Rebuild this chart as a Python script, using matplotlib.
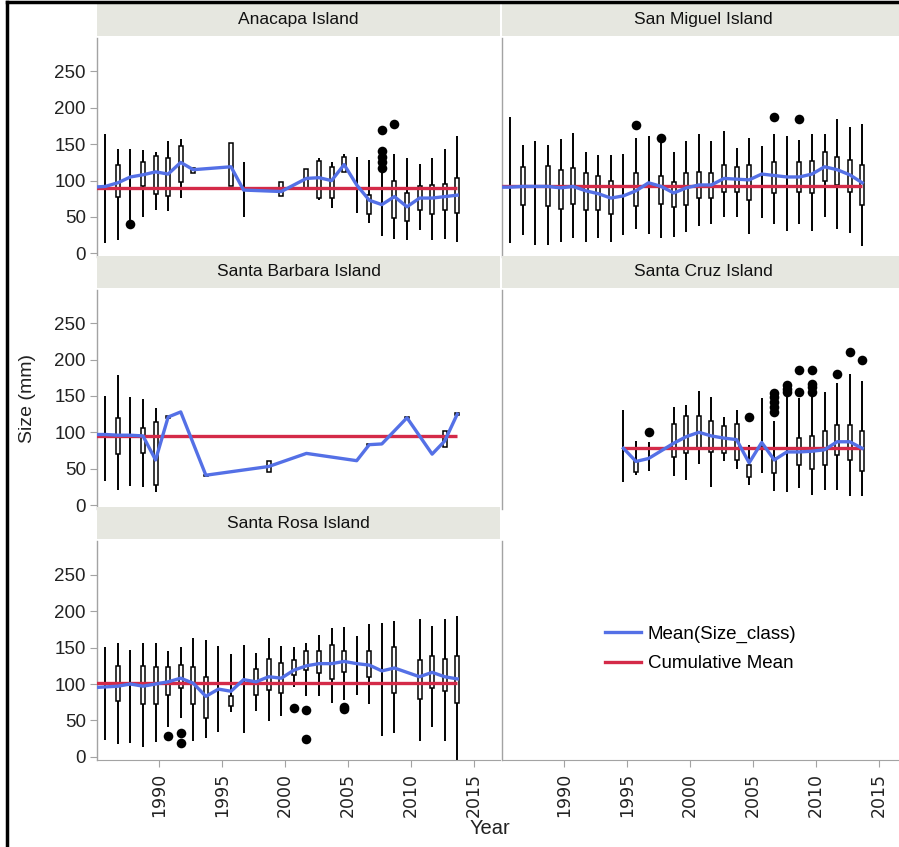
import numpy as np
import matplotlib
matplotlib.use("Agg")
import matplotlib.pyplot as plt
from matplotlib.lines import Line2D

nan = np.nan

# ---- Anacapa Island ----
anacapa_years = [1986, 1987, 1988, 1989, 1990, 1991, 1992, 1993, 1996, 1997, 2000, 2002,
                 2003, 2004, 2005, 2006, 2007, 2008, 2009, 2010, 2011, 2012, 2013, 2014]
anacapa_whis_hi = [164, 144, 143, 142, 140, 154, 157, 117, 151, 126, 98, 116,
                   131, 125, 137, 132, 128, 115, 137, 131, 123, 131, 143, 161]
anacapa_whis_lo = [14, 19, 45, 50, 60, 58, 76, 110, 92, 50, 79, 89,
                   74, 63, 112, 55, 42, 24, 20, 18, 32, 18, 20, 15]
anacapa_q1 = [nan, 78, nan, 92, 81, 79, 98, 110, 92, nan, 79, 89,
              76, 76, 112, nan, 54, nan, 48, 45, 60, 54, 60, 56]
anacapa_q3 = [nan, 122, nan, 125, 134, 131, 147, 117, 151, nan, 98, 116,
              127, 119, 133, nan, 80, nan, 100, 83, 92, 94, 96, 104]
anacapa_mean_years = [1985, 1986, 1987, 1988, 1989, 1990, 1991, 1992, 1993, 1996, 1997, 2000,
                      2002, 2003, 2004, 2005, 2006, 2007, 2008, 2009, 2010, 2011, 2012, 2013, 2014]
anacapa_mean = [91, 92, 97, 105, 108, 112, 109, 125, 115, 119, 87, 85,
                103, 104, 100, 122, 94, 73, 67, 78, 64, 76, 76, 78, 80]
anacapa_out_years = [1988, 2008, 2008, 2008, 2008, 2008, 2009]
anacapa_out_vals = [40, 170, 141, 133, 126, 118, 178]
anacapa_cum = 89.5

# ---- San Miguel Island ----
sanmiguel_years = list(range(1986, 2015))
sanmiguel_whis_hi = [187, 149, 154, 149, 157, 166, 139, 135, 135, 137, 158, 161, 152, 139, 155,
                     164, 154, 168, 145, 159, 148, 164, 161, 156, 164, 164, 184, 174, 178]
sanmiguel_whis_lo = [14, 25, 12, 12, 16, 21, 16, 21, 16, 25, 33, 27, 21, 23, 30,
                     37, 40, 50, 50, 27, 48, 40, 31, 40, 31, 50, 34, 28, 10]
sanmiguel_q1 = [nan, 67, nan, 65, 61, 68, 60, 60, 54, nan, 65, nan, 68, 64, 67,
                76, 76, 85, 85, 73, nan, 83, nan, 85, 83, 99, 94, 85, 66]
sanmiguel_q3 = [nan, 119, nan, 120, 115, 118, 110, 106, 100, nan, 110, nan, 106, 98, 111,
                112, 111, 122, 119, 122, nan, 125, nan, 125, 127, 139, 132, 129, 122]
sanmiguel_mean_years = list(range(1985, 2015))
sanmiguel_mean = [91, 91, 92, 92, 92, 90, 92, 86, 82, 76, 79, 86, 97, 92, 83,
                  90, 94, 94, 103, 102, 101, 109, 107, 105, 105, 109, 119, 115, 108, 97]
sanmiguel_out_years = [1996, 1998, 2007, 2009]
sanmiguel_out_vals = [177, 159, 187, 184]
sanmiguel_cum = 93

# ---- Santa Barbara Island ----
santabarbara_years = [1986, 1987, 1988, 1989, 1990, 1991, 1994, 1999, 2007, 2010, 2013, 2014]
santabarbara_whis_hi = [150, 179, 148, 146, 134, 123, 42, 60, 84, 121, 102, 126]
santabarbara_whis_lo = [33, 21, 26, 25, 18, 120, 40, 45, 82, 119, 80, 124]
santabarbara_q1 = [nan, 70, nan, 71, 28, 120, 40, 45, 82, 119, 80, 124]
santabarbara_q3 = [nan, 120, nan, 106, 114, 123, 42, 60, 84, 121, 102, 126]
santabarbara_mean_years = [1985, 1986, 1987, 1988, 1989, 1990, 1991, 1992, 1994, 1999,
                           2002, 2006, 2007, 2008, 2010, 2012, 2013, 2014]
santabarbara_mean = [97, 97, 96, 96, 95, 62, 121, 128, 41, 53,
                     71, 61, 83, 84, 120, 70, 88, 125]
santabarbara_out_years = []
santabarbara_out_vals = []
santabarbara_cum = 95

# ---- Santa Cruz Island ----
santacruz_years = [1995, 1996, 1997, 1999, 2000, 2001, 2002, 2003, 2004, 2005,
                   2006, 2007, 2008, 2009, 2010, 2011, 2012, 2013, 2014]
santacruz_whis_hi = [130, 88, 87, 135, 138, 157, 148, 121, 131, 83,
                     147, 116, 152, 147, 151, 155, 168, 180, 170]
santacruz_whis_lo = [32, 41, 47, 40, 35, 57, 25, 60, 50, 28,
                     44, 20, 18, 24, 14, 21, 21, 12, 12]
santacruz_q1 = [nan, 45, nan, 66, 72, 78, 73, 71, 62, 39,
                nan, 44, nan, 55, 49, 55, 69, 62, 47]
santacruz_q3 = [nan, 60, nan, 111, 122, 122, 116, 109, 112, 55,
                nan, 64, nan, 92, 95, 102, 110, 110, 102]
santacruz_mean_years = santacruz_years
santacruz_mean = [78, 60, 64, 85, 94, 100, 95, 92, 90, 58,
                  86, 62, 73, 73, 74, 76, 87, 87, 78]
santacruz_out_years = [1997, 2005, 2007, 2007, 2007, 2007, 2007, 2008, 2008, 2008,
                       2009, 2009, 2010, 2010, 2010, 2010, 2012, 2013, 2014]
santacruz_out_vals = [101, 121, 154, 148, 142, 135, 128, 165, 160, 156,
                      186, 155, 186, 166, 162, 156, 180, 210, 200]
santacruz_cum = 78

# ---- Santa Rosa Island ----
santarosa_years = list(range(1986, 2010)) + [2011, 2012, 2013, 2014]
santarosa_whis_hi = [151, 157, 147, 156, 157, 146, 151, 163, 161, 152, 141, 154, 143, 163,
                     152, 151, 157, 168, 177, 179, 166, 182, 184, 187, 189, 180, 189, 194]
santarosa_whis_lo = [23, 18, 19, 14, 20, 41, 53, 21, 26, 34, 61, 32, 63, 49,
                     56, 96, 83, 84, 74, 78, 85, 73, 28, 32, 22, 41, 22, -4]
santarosa_q1 = [nan, 76, nan, 73, 73, 85, 94, 73, 53, nan, 70, nan, 85, 92,
                87, 112, 119, 115, 107, 116, nan, 110, nan, 88, 80, 94, 90, 74]
santarosa_q3 = [nan, 125, nan, 125, 124, 124, 126, 123, 110, nan, 83, nan, 120, 135,
                129, 133, 146, 145, 153, 146, nan, 146, nan, 151, 133, 139, 135, 139]
santarosa_mean_years = list(range(1985, 2010)) + [2011, 2012, 2013, 2014]
santarosa_mean = [95, 96, 97, 100, 97, 100, 103, 108, 101, 83, 93, 90, 106, 103, 110,
                  108, 119, 125, 128, 128, 131, 128, 126, 118, 122, 110, 116, 110, 107]
santarosa_out_years = [1991, 1992, 1992, 2001, 2002, 2002, 2005, 2005]
santarosa_out_vals = [28, 33, 19, 67, 64, 25, 69, 65]
santarosa_cum = 102

year_ticks = [1990, 1995, 2000, 2005, 2010, 2015]
y_ticks = [0, 50, 100, 150, 200, 250]

BLUE = "#5470e6"
RED = "#d42a48"
STRIP = "#e6e7e0"
AXIS_GRAY = "#a3a3a3"
X_SHIFT = -0.3   # boxes sit a little left of the year tick in the original

W, H = 899, 847
fig = plt.figure(figsize=(W / 100, H / 100), dpi=100)


def px_axes(left, top, width, height):
    return fig.add_axes([left / W, 1 - (top + height) / H, width / W, height / H])


def draw_panel(ax, years, whis_lo, whis_hi, q1, q3, mean_years, mean_vals,
               out_years, out_vals, cum):
    bx = np.asarray(years) + X_SHIFT
    ax.vlines(bx, whis_lo, whis_hi, color="black", lw=1.4, zorder=2)
    q1 = np.asarray(q1, float)
    q3 = np.asarray(q3, float)
    has = ~np.isnan(q1)
    ax.bar(bx[has], q3[has] - q1[has], bottom=q1[has], width=0.32,
           facecolor="white", edgecolor="black", linewidth=1.1, zorder=3)
    mx = np.asarray(mean_years) + X_SHIFT
    ax.hlines(cum, mx.min(), mx.max(), color=RED, lw=2.4, zorder=4)
    ax.plot(mx, mean_vals, color=BLUE, lw=2.4, zorder=5)
    if len(out_years):
        ax.scatter(np.asarray(out_years) + X_SHIFT, out_vals, s=48,
                   color="black", zorder=6, linewidths=0)


def style_axes(ax, show_y, show_x):
    ax.set_xlim(1985.04, 2017.1)
    ax.set_ylim(-5, 296)
    for s in ["top", "right", "bottom"]:
        ax.spines[s].set_visible(False)
    ax.spines["left"].set_color(AXIS_GRAY)
    ax.spines["left"].set_linewidth(1.0)
    ax.set_yticks(y_ticks)
    ax.set_xticks(year_ticks)
    ax.tick_params(axis="y", length=5, color=AXIS_GRAY, labelsize=13.5,
                   labelcolor="#222222", pad=3, left=show_y, labelleft=show_y)
    if show_y:
        for lab in ax.get_yticklabels():
            lab.set_fontfamily("Liberation Sans")
    if show_x:
        ax.spines["bottom"].set_visible(True)
        ax.spines["bottom"].set_color(AXIS_GRAY)
        ax.tick_params(axis="x", length=5, color=AXIS_GRAY, labelsize=12.5,
                       labelcolor="#222222", labelrotation=90, pad=4)
        for lab in ax.get_xticklabels():
            lab.set_fontfamily("DejaVu Sans")
    else:
        ax.tick_params(axis="x", bottom=False, labelbottom=False)
    ax.patch.set_alpha(0)


def add_strip(left, top, width, title):
    sax = px_axes(left, top - 34, width, 32)
    sax.set_facecolor(STRIP)
    sax.set_xticks([])
    sax.set_yticks([])
    for s in sax.spines.values():
        s.set_visible(False)
    sax.text(0.5, 0.5, title, ha="center", va="center", fontsize=12.5,
             family="Liberation Sans", color="#111111", transform=sax.transAxes)


col_left = [97, 502]
row_top = [38, 289.7, 541.4]
PW, PH = 403, 219

panels = [
    ("Anacapa Island", 0, 0, anacapa_years, anacapa_whis_lo, anacapa_whis_hi, anacapa_q1,
     anacapa_q3, anacapa_mean_years, anacapa_mean, anacapa_out_years, anacapa_out_vals,
     anacapa_cum),
    ("San Miguel Island", 1, 0, sanmiguel_years, sanmiguel_whis_lo, sanmiguel_whis_hi,
     sanmiguel_q1, sanmiguel_q3, sanmiguel_mean_years, sanmiguel_mean, sanmiguel_out_years,
     sanmiguel_out_vals, sanmiguel_cum),
    ("Santa Barbara Island", 0, 1, santabarbara_years, santabarbara_whis_lo,
     santabarbara_whis_hi, santabarbara_q1, santabarbara_q3, santabarbara_mean_years,
     santabarbara_mean, santabarbara_out_years, santabarbara_out_vals, santabarbara_cum),
    ("Santa Cruz Island", 1, 1, santacruz_years, santacruz_whis_lo, santacruz_whis_hi,
     santacruz_q1, santacruz_q3, santacruz_mean_years, santacruz_mean, santacruz_out_years,
     santacruz_out_vals, santacruz_cum),
    ("Santa Rosa Island", 0, 2, santarosa_years, santarosa_whis_lo, santarosa_whis_hi,
     santarosa_q1, santarosa_q3, santarosa_mean_years, santarosa_mean, santarosa_out_years,
     santarosa_out_vals, santarosa_cum),
]

for title, col, row, *data in panels:
    ax = px_axes(col_left[col], row_top[row], PW, PH)
    draw_panel(ax, *data)
    style_axes(ax, show_y=(col == 0), show_x=(row == 2))
    add_strip(col_left[col], row_top[row], PW, title)

# empty bottom-right cell keeps its axis and holds the legend
ax_empty = px_axes(col_left[1], row_top[2], PW, PH)
style_axes(ax_empty, show_y=False, show_x=True)
handles = [Line2D([], [], color=BLUE, lw=2.4), Line2D([], [], color=RED, lw=2.4)]
ax_empty.legend(handles, ["Mean(Size_class)", "Cumulative Mean"], frameon=False,
                loc="center left", bbox_to_anchor=(596 / W, 1 - 649 / H),
                bbox_transform=fig.transFigure, borderpad=0, handlelength=1.9,
                handletextpad=0.35, labelspacing=0.65,
                prop={"family": "Liberation Sans", "size": 13.5})

fig.text(28 / W, 1 - 398 / H, "Size (mm)", rotation=90, ha="center", va="center",
         fontsize=14, family="Liberation Sans", color="#222222")
fig.text(490 / W, 1 - 828 / H, "Year", ha="center", va="center", fontsize=14.5,
         family="Liberation Sans", color="#222222")

# black frame on the left and top like the screenshot
fig.add_artist(Line2D([7 / W, 7 / W], [0, 1 - 2 / H], color="black", lw=2.5,
                      transform=fig.transFigure))
fig.add_artist(Line2D([7 / W, 1], [1 - 2 / H, 1 - 2 / H], color="black", lw=2.5,
                      transform=fig.transFigure))

fig.savefig("out.png", dpi=100)
